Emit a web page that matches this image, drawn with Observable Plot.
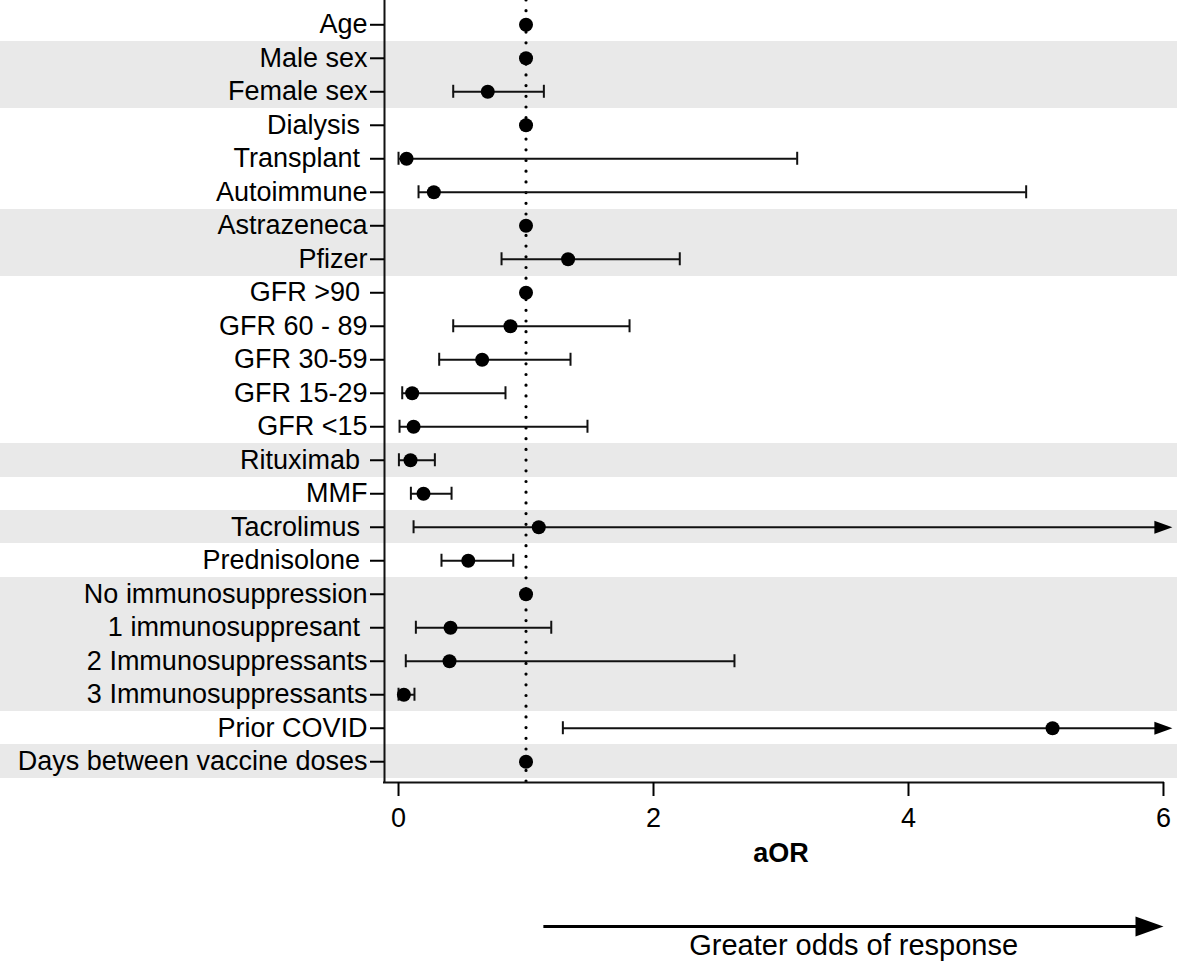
<!DOCTYPE html>
<html><head><meta charset="utf-8">
<script src="https://cdn.jsdelivr.net/npm/d3@7"></script>
<script src="https://cdn.jsdelivr.net/npm/@observablehq/plot@0.6"></script>
<style>body{margin:0;background:#fff} #chart svg{display:block}</style>
</head><body><div id="chart"></div>
<script>
// ---------- data ----------
const categories = [
  "Age", "Male sex", "Female sex", "Dialysis ", "Transplant ", "Autoimmune",
  "Astrazeneca", "Pfizer", "GFR >90 ", "GFR 60 - 89", "GFR 30-59", "GFR 15-29",
  "GFR <15", "Rituximab ", "MMF", "Tacrolimus ", "Prednisolone ",
  "No immunosuppression", "1 immunosuppresant ", "2 Immunosuppressants",
  "3 Immunosuppressants", "Prior COVID", "Days between vaccine doses"
];
const estimates = [1, 1, 0.70, 1, 0.063, 0.277, 1, 1.33, 1, 0.878, 0.656, 0.107,
  0.118, 0.094, 0.196, 1.10, 0.547, 1, 0.408, 0.40, 0.042, 5.13, 1];
const lowerCI = [null, null, 0.429, null, 0.0, 0.157, null, 0.808, null, 0.429, 0.319, 0.029,
  0.008, 0.003, 0.097, 0.118, 0.337, null, 0.136, 0.057, 0.0, 1.289, null];
const upperCI = [null, null, 1.14, null, 3.127, 4.923, null, 2.206, null, 1.812, 1.349, 0.839,
  1.482, 0.285, 0.416, null, 0.90, null, 1.198, 2.635, 0.125, null, null];
const truncatedUpper = ["Tacrolimus", "Prior COVID"];
const shadedRows = ["Male sex", "Female sex", "Astrazeneca", "Pfizer", "Rituximab",
  "Tacrolimus", "No immunosuppression", "1 immunosuppresant", "2 Immunosuppressants",
  "3 Immunosuppressants", "Days between vaccine doses"];
const xTicks = [0, 2, 4, 6];
const referenceValue = 1;
const xLabel = "aOR";
const directionNote = "Greater odds of response";
const directionStart = 1.14;
const directionEnd = 6;

// ---------- layout ----------
const xDomain = [-0.11, 6.11];
const yDomain = [-0.725, 22.62];
const arrowTip = 6.07;
const capHalf = 0.194;

const rows = categories.map((c, i) => ({
  label: c, name: c.trim(), i, est: estimates[i], lo: lowerCI[i], hi: upperCI[i],
  trunc: truncatedUpper.includes(c.trim())
}));
const ciRows = rows.filter(d => d.lo != null);
const caps = [];
ciRows.forEach(d => {
  caps.push({i: d.i, x: d.lo});
  if (!d.trunc && d.hi != null) caps.push({i: d.i, x: d.hi});
});
const bandRows = rows.filter(d => shadedRows.includes(d.name));
const truncRows = rows.filter(d => d.trunc);

const smallHead = {draw(ctx) { ctx.moveTo(0, 0); ctx.lineTo(-18, -6.5); ctx.lineTo(-18, 6.5); ctx.closePath(); }};
const bigHead = {draw(ctx) { ctx.moveTo(0, 0); ctx.lineTo(-28, -10); ctx.lineTo(-28, 10); ctx.closePath(); }};

const chart = Plot.plot({
  width: 1179,
  height: 970,
  marginLeft: 384,
  marginRight: 2,
  marginTop: 0,
  marginBottom: 188,
  style: {fontFamily: "'Liberation Sans', Arial, sans-serif", fontSize: "27px", color: "#000", background: "#fff"},
  x: {domain: xDomain, label: null},
  y: {domain: yDomain, reverse: true, label: null},
  marks: [
    Plot.rect(bandRows, {x1: () => xDomain[0], x2: () => xDomain[1], y1: d => d.i - 0.5, y2: d => d.i + 0.5,
      fill: "#e9e9e9", insetLeft: -384, shapeRendering: "crispEdges"}),
    Plot.ruleX([referenceValue], {stroke: "#000", strokeWidth: 3.2, strokeDasharray: "0 10.7", strokeLinecap: "round"}),
    Plot.ruleY(ciRows, {y: "i", x1: "lo", x2: d => d.trunc ? arrowTip - 0.05 : d.hi, stroke: "#111", strokeWidth: 2}),
    Plot.ruleX(caps, {x: "x", y1: d => d.i - capHalf, y2: d => d.i + capHalf, stroke: "#111", strokeWidth: 2}),
    Plot.dot(truncRows, {x: () => arrowTip, y: "i", symbol: smallHead, fill: "#000", stroke: null}),
    Plot.dot(rows, {x: "est", y: "i", r: 7, fill: "#000", stroke: null}),
    Plot.ruleX([xDomain[0]], {stroke: "#111", strokeWidth: 2}),
    Plot.ruleY([yDomain[1]], {x1: () => xDomain[0], x2: () => xTicks[xTicks.length - 1], stroke: "#111", strokeWidth: 2, strokeLinecap: "square"}),
    Plot.axisY(rows.map(d => d.i), {anchor: "left", tickSize: 14, tickPadding: 3, strokeWidth: 2,
      tickFormat: i => categories[i].replace(/ $/, "\u00a0"), fontSize: 27, label: null}),
    Plot.axisX(xTicks, {anchor: "bottom", tickSize: 14, tickPadding: 11, strokeWidth: 2, fontSize: 27,
      tickFormat: d => String(d), label: null}),
    Plot.text([xLabel], {x: () => (xDomain[0] + xDomain[1]) / 2, frameAnchor: "bottom", dy: 79, fontWeight: "bold", fontSize: 27, fill: "#000"}),
    Plot.ruleY([yDomain[1]], {x1: () => directionStart, x2: () => directionEnd, dy: 144, insetRight: 14, stroke: "#000", strokeWidth: 3}),
    Plot.dot([yDomain[1]], {x: () => directionEnd, y: d => d, dy: 144, symbol: bigHead, fill: "#000", stroke: null}),
    Plot.text([directionNote], {x: () => (directionStart + directionEnd) / 2, frameAnchor: "bottom", dy: 172, fontSize: 29, fill: "#000"})
  ]
});
document.getElementById("chart").appendChild(chart);
</script>
</body></html>
